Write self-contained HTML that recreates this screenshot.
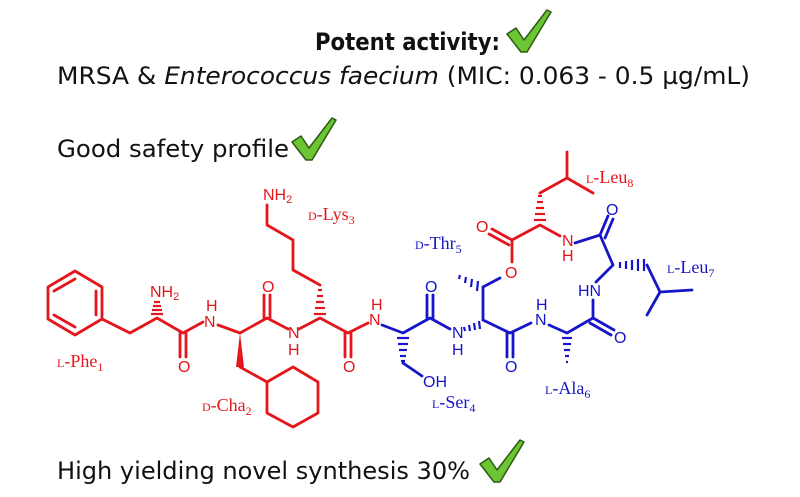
<!DOCTYPE html>
<html><head><meta charset="utf-8"><style>
html,body{margin:0;padding:0;background:#fff;}
svg{display:block}
.t{font-family:"DejaVu Sans Condensed","DejaVu Sans","Liberation Sans",sans-serif;font-size:24px;fill:#111}
.r{stroke:#e3161b;stroke-width:2.8;fill:none;stroke-linecap:round;stroke-linejoin:round}
.b{stroke:#1616c8;stroke-width:2.8;fill:none;stroke-linecap:round;stroke-linejoin:round}
.ar{font-family:"Liberation Sans",sans-serif;font-size:16px;fill:#e3161b}
.ab{font-family:"Liberation Sans",sans-serif;font-size:16px;fill:#1616c8}
.lr{font-family:"Liberation Serif",serif;font-size:18px;fill:#e3161b}
.lb{font-family:"Liberation Serif",serif;font-size:18px;fill:#1616c8}
.hr{stroke:#e3161b;stroke-width:2.2}
.hb{stroke:#1616c8;stroke-width:2.2}
</style></head><body>
<svg width="800" height="497" viewBox="0 0 800 497" xmlns="http://www.w3.org/2000/svg">
<defs>
<g id="chk"><path d="M0,18 L9,12 L17,24 L40,-6 L44,-4 L20,36 L14,36 Z" fill="#6cc533" stroke="#2d5a12" stroke-width="1.5" stroke-linejoin="round"/></g>
</defs>
<text class="t" x="315" y="50" font-weight="bold" textLength="185" lengthAdjust="spacingAndGlyphs">Potent activity:</text>
<use href="#chk" x="507" y="16"/>
<text class="t" x="57" y="84" textLength="693" lengthAdjust="spacingAndGlyphs">MRSA &amp;  <tspan font-style="italic">Enterococcus faecium</tspan>  (MIC: 0.063 - 0.5 µg/mL)</text>
<text class="t" x="57" y="157" textLength="232" lengthAdjust="spacingAndGlyphs">Good safety profile</text>
<use href="#chk" x="292" y="124"/>
<text class="t" x="57" y="479" textLength="413" lengthAdjust="spacingAndGlyphs">High yielding novel synthesis 30%</text>
<use href="#chk" x="480" y="446"/>

<!-- RED part -->
<polygon class="r" points="75,271 102,287 102,319 75,335 48,319 48,287"/>
<line class="r" x1="96" y1="291" x2="96" y2="315"/>
<line class="r" x1="54" y1="291" x2="75" y2="279"/>
<line class="r" x1="54" y1="315" x2="75" y2="327"/>
<polyline class="r" points="102,319 130,333 157,318 183,333 203,322"/>
<g class="hr"><line x1="151" y1="314" x2="163" y2="314"/><line x1="152" y1="310" x2="162" y2="310"/><line x1="153" y1="306" x2="161" y2="306"/><line x1="154" y1="302" x2="160" y2="302"/></g>
<text class="ar" x="150" y="297">NH<tspan font-size="11" dy="3">2</tspan></text>
<line class="r" x1="180" y1="333" x2="180" y2="357"/><line class="r" x1="186" y1="333" x2="186" y2="357"/>
<text class="ar" x="178" y="372">O</text>
<text class="ar" x="204" y="327">N</text><text class="ar" x="206" y="311">H</text>
<polyline class="r" points="218,325 240,333 267,318 288,329"/>
<line class="r" x1="264" y1="318" x2="264" y2="295"/><line class="r" x1="270" y1="318" x2="270" y2="295"/>
<text class="ar" x="262" y="292">O</text>
<polygon points="240,333 236,367 244,367" fill="#e3161b"/>
<polyline class="r" points="240,367 267,382"/>
<polygon class="r" points="267,382 293,367 318,382 318,413 293,427 267,413"/>
<text class="lr" x="202" y="411"><tspan font-size="12">D</tspan>-Cha<tspan font-size="12" dy="4">2</tspan></text>
<text class="lr" x="57" y="367"><tspan font-size="12">L</tspan>-Phe<tspan font-size="12" dy="4">1</tspan></text>
<text class="ar" x="288" y="338">N</text><text class="ar" x="288" y="355">H</text>
<polyline class="r" points="299,329 320,318 348,333 368,323"/>
<g class="hr"><line x1="314" y1="314" x2="326" y2="314"/><line x1="315" y1="308" x2="325" y2="308"/><line x1="316" y1="302" x2="324" y2="302"/><line x1="317" y1="296" x2="323" y2="296"/><line x1="318" y1="290" x2="322" y2="290"/></g>
<polyline class="r" points="320,285 293,270 293,240 267,225 267,205"/>
<text class="ar" x="263" y="200">NH<tspan font-size="11" dy="3">2</tspan></text>
<text class="lr" x="308" y="220"><tspan font-size="12">D</tspan>-Lys<tspan font-size="12" dy="4">3</tspan></text>
<line class="r" x1="345" y1="333" x2="345" y2="357"/><line class="r" x1="351" y1="333" x2="351" y2="357"/>
<text class="ar" x="343" y="372">O</text>
<text class="ar" x="369" y="325">N</text><text class="ar" x="371" y="310">H</text>

<!-- Leu8 red -->
<polyline class="r" points="512,240 540,225 560,236"/>
<line class="r" x1="512" y1="240" x2="512" y2="262"/>
<line class="r" x1="512" y1="240" x2="492" y2="229"/><line class="r" x1="509" y1="245" x2="489" y2="234"/>
<text class="ar" x="476" y="232">O</text>
<text class="ar" x="505" y="278">O</text>
<g class="hr"><line x1="534" y1="220" x2="546" y2="220"/><line x1="535" y1="214" x2="545" y2="214"/><line x1="536" y1="208" x2="544" y2="208"/><line x1="537" y1="202" x2="543" y2="202"/><line x1="538" y1="196" x2="542" y2="196"/></g>
<polyline class="r" points="540,193 567,178 593,193"/>
<line class="r" x1="567" y1="178" x2="567" y2="152"/>
<text class="lr" x="586" y="183"><tspan font-size="12">L</tspan>-Leu<tspan font-size="12" dy="4">8</tspan></text>
<text class="ar" x="562" y="246">N</text><text class="ar" x="562" y="261">H</text>

<!-- BLUE part -->
<polyline class="b" points="382,325 403,333 430,318 450,329"/>
<line class="b" x1="427" y1="318" x2="427" y2="295"/><line class="b" x1="433" y1="318" x2="433" y2="295"/>
<text class="ab" x="425" y="292">O</text>
<g class="hb"><line x1="397" y1="338" x2="409" y2="338"/><line x1="398" y1="344" x2="408" y2="344"/><line x1="399" y1="350" x2="407" y2="350"/><line x1="400" y1="356" x2="406" y2="356"/><line x1="401" y1="361" x2="405" y2="361"/></g>
<polyline class="b" points="403,363 422,376"/>
<text class="ab" x="423" y="387">OH</text>
<text class="lb" x="432" y="408"><tspan font-size="12">L</tspan>-Ser<tspan font-size="12" dy="4">4</tspan></text>
<text class="ab" x="452" y="338">N</text><text class="ab" x="452" y="355">H</text>
<g class="hb"><line x1="464" y1="327" x2="465" y2="331"/><line x1="469" y1="325" x2="470" y2="331"/><line x1="474" y1="323" x2="475" y2="330"/><line x1="479" y1="321" x2="480" y2="329"/></g>
<polyline class="b" points="483,320 510,333 531,323"/>
<line class="b" x1="483" y1="320" x2="483" y2="287"/>
<line class="b" x1="483" y1="287" x2="500" y2="278"/>
<g class="hb"><line x1="478" y1="281" x2="477" y2="291"/><line x1="472" y1="279" x2="471" y2="287"/><line x1="466" y1="277" x2="465" y2="283"/><line x1="460" y1="275" x2="459" y2="279"/></g>
<text class="lb" x="415" y="249"><tspan font-size="12">D</tspan>-Thr<tspan font-size="12" dy="4">5</tspan></text>
<line class="b" x1="507" y1="333" x2="507" y2="357"/><line class="b" x1="513" y1="333" x2="513" y2="357"/>
<text class="ab" x="505" y="372">O</text>
<text class="ab" x="535" y="325">N</text><text class="ab" x="536" y="310">H</text>
<polyline class="b" points="549,325 567,333 593,318 593,300"/>
<g class="hb"><line x1="562" y1="338" x2="572" y2="338"/><line x1="563" y1="344" x2="571" y2="344"/><line x1="564" y1="350" x2="570" y2="350"/><line x1="565" y1="356" x2="569" y2="356"/><line x1="566" y1="362" x2="568" y2="362"/></g>
<line class="b" x1="593" y1="318" x2="614" y2="330"/><line class="b" x1="590" y1="323" x2="611" y2="335"/>
<text class="ab" x="614" y="343">O</text>
<text class="lb" x="545" y="394"><tspan font-size="12">L</tspan>-Ala<tspan font-size="12" dy="4">6</tspan></text>
<text class="ab" x="578" y="296">HN</text>
<polyline class="b" points="596,282 613,265 600,235 575,243"/>
<line class="b" x1="600" y1="235" x2="608" y2="216"/><line class="b" x1="605" y1="238" x2="613" y2="219"/>
<text class="ab" x="606" y="215">O</text>
<g class="hb"><line x1="620" y1="262" x2="620" y2="268"/><line x1="626" y1="261" x2="626" y2="269"/><line x1="632" y1="260" x2="632" y2="270"/><line x1="638" y1="259" x2="638" y2="271"/><line x1="644" y1="259" x2="644" y2="271"/></g>
<polyline class="b" points="647,265 660,292 692,290"/>
<line class="b" x1="660" y1="292" x2="647" y2="315"/>
<text class="lb" x="667" y="273"><tspan font-size="12">L</tspan>-Leu<tspan font-size="12" dy="4">7</tspan></text>
</svg>
</body></html>
